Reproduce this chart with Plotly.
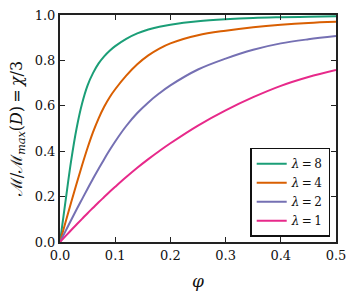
import plotly.graph_objects as go

phi = [0, 0.01, 0.02, 0.03, 0.04, 0.05, 0.06, 0.07, 0.08, 0.09, 0.10, 0.12, 0.14, 0.16, 0.18,
       0.20, 0.25, 0.30, 0.35, 0.40, 0.45, 0.50]

m_l8 = [0, 0.180, 0.355, 0.500, 0.610, 0.690, 0.745, 0.787, 0.818, 0.843, 0.863, 0.895, 0.919, 0.936, 0.948,
        0.957, 0.972, 0.981, 0.987, 0.990, 0.992, 0.994]
m_l4 = [0, 0.087, 0.173, 0.257, 0.338, 0.415, 0.485, 0.545, 0.596, 0.638, 0.673, 0.733, 0.783, 0.822, 0.852,
        0.875, 0.911, 0.931, 0.946, 0.957, 0.965, 0.970]
m_l2 = [0, 0.048, 0.096, 0.143, 0.189, 0.235, 0.280, 0.323, 0.365, 0.405, 0.443, 0.511, 0.568, 0.615, 0.655,
        0.690, 0.760, 0.808, 0.847, 0.875, 0.893, 0.907]
m_l1 = [0, 0.026, 0.052, 0.077, 0.102, 0.127, 0.151, 0.175, 0.198, 0.221, 0.243, 0.286, 0.327, 0.365, 0.401,
        0.435, 0.513, 0.580, 0.638, 0.688, 0.727, 0.758]

labels = ["8", "4", "2", "1"]
series = [m_l8, m_l4, m_l2, m_l1]
colors = ["#1b9e77", "#d95f02", "#7570b3", "#e7298a"]

x_ticks = [0.0, 0.1, 0.2, 0.3, 0.4, 0.5]
y_ticks = [0.0, 0.2, 0.4, 0.6, 0.8, 1.0]

fig = go.Figure()
for lab, ys, c in zip(labels, series, colors):
    fig.add_trace(go.Scatter(x=phi, y=ys, mode="lines", name=f"<i>λ</i>\u2009=\u2009{lab}",
                             line=dict(color=c, width=2, shape="spline", smoothing=1.0)))

font = "DejaVu Serif, Liberation Serif, serif"
axis_common = dict(showgrid=False, zeroline=False, showline=True, linecolor="#222222", linewidth=2,
                   mirror="ticks", ticks="inside", ticklen=5, tickwidth=1, tickcolor="#222222",
                   automargin=False,
                   tickfont=dict(family=font, size=13, color="#111111"))

fig.update_layout(
    width=355, height=296,
    margin=dict(l=60, r=19, t=15, b=54),
    paper_bgcolor="white", plot_bgcolor="white",
    showlegend=True,
    legend=dict(x=0.979, y=0.023, xanchor="right", yanchor="bottom",
                bordercolor="#111111", borderwidth=1.5, bgcolor="white",
                font=dict(family=font, size=12, color="#111111"),
                itemwidth=30, tracegroupgap=0),
    xaxis=dict(range=[0, 0.5], tickvals=x_ticks, ticktext=[f"{v:.1f}" for v in x_ticks],
               title=dict(text="<i>φ</i>", font=dict(family=font, size=17, color="#111111"), standoff=14),
               **axis_common),
    yaxis=dict(range=[0, 1.0], tickvals=y_ticks, ticktext=[f"{v:.1f}" for v in y_ticks],
               title=dict(text="ℳ/ℳ<sub><i>max</i></sub>(<i>D</i>)\u2009=\u2009<i>χ</i>/3",
                          font=dict(family=font, size=16, color="#111111"), standoff=8),
               **axis_common),
)

fig.write_html("out.html", config={"displayModeBar": False},
               post_script="document.body.style.margin='0';document.body.style.overflow='hidden';")
